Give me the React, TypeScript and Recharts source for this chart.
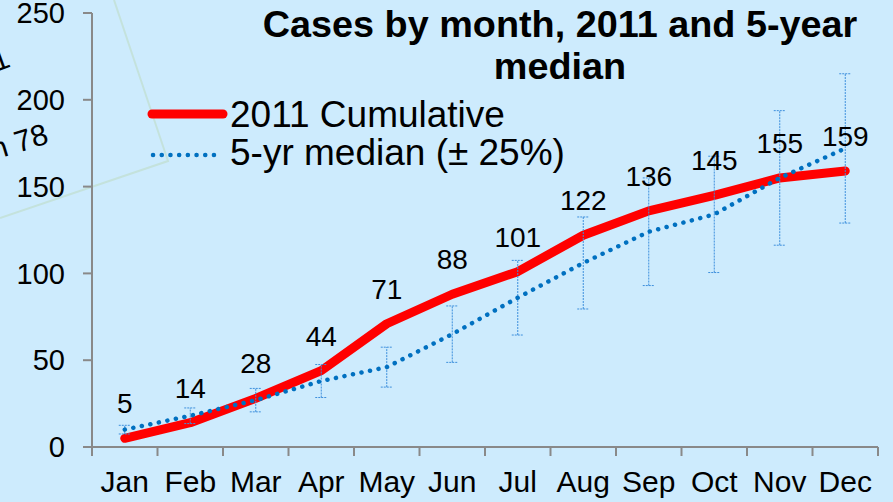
import React from "react";
import {
  LineChart,
  Line,
  XAxis,
  YAxis,
  ErrorBar,
  LabelList,
  Legend,
} from "recharts";

// chart data
const months = ["Jan", "Feb", "Mar", "Apr", "May", "Jun", "Jul", "Aug", "Sep", "Oct", "Nov", "Dec"];
const cumulative2011 = [5, 14, 28, 44, 71, 88, 101, 122, 136, 145, 155, 159];
const median5yr = [10, 18, 27, 38, 46, 65, 86, 106, 124, 134, 155, 172];
const errorShare = 0.25; // "± 25%" from the legend
const yTicks = [0, 50, 100, 150, 200, 250];

const W = 893;
const H = 502;
const MARGIN = { top: 13, right: 15, bottom: 0, left: 0 };
const Y_AXIS_W = 92;
const X_AXIS_H = 55;
const PLOT_W = W - MARGIN.left - MARGIN.right - Y_AXIS_W;
const BAND = PLOT_W / months.length;
const AXIS_Y = H - X_AXIS_H;

const AXIS_GRAY = "#898989";
const BG = "#cdebfd";
const FONT = '"Liberation Sans", Arial, Helvetica, sans-serif';

const rows = months.map((m, i) => ({
  month: m,
  x: i + 0.5,
  cum: cumulative2011[i],
  median: median5yr[i],
  err: median5yr[i] * errorShare,
}));

const xTicks = rows.map((r) => r.x);

function MonthTick(props: any) {
  const { x, payload, index } = props;
  const left = x - BAND / 2;
  const isLast = index === months.length - 1;
  return (
    <g>
      <line x1={left} x2={left} y1={AXIS_Y} y2={AXIS_Y + 9} stroke={AXIS_GRAY} strokeWidth={2} />
      {isLast && (
        <line x1={x + BAND / 2} x2={x + BAND / 2} y1={AXIS_Y} y2={AXIS_Y + 9} stroke={AXIS_GRAY} strokeWidth={2} />
      )}
      <text x={x} y={AXIS_Y + 45} textAnchor="middle" fontSize={30} fill="#000" fontFamily={FONT}>
        {months[Math.round(payload.value - 0.5)]}
      </text>
    </g>
  );
}

function LegendBox() {
  return (
    <svg width={440} height={90} style={{ overflow: "visible" }}>
      <line x1={4} x2={75} y1={19} y2={19} stroke="#ff0000" strokeWidth={9} strokeLinecap="round" />
      <text x={82} y={32} fontSize={37} fill="#000" fontFamily={FONT}>
        2011 Cumulative
      </text>
      <line
        x1={5}
        x2={74}
        y1={60}
        y2={60}
        stroke="#0070c0"
        strokeWidth={4.5}
        strokeLinecap="round"
        strokeDasharray="0.1 8.6"
      />
      <text x={82} y={70} fontSize={37} fill="#000" fontFamily={FONT}>
        5-yr median (± 25%)
      </text>
    </svg>
  );
}

export default function App() {
  return (
    <div
      style={{
        position: "fixed",
        left: 0,
        top: 0,
        width: W,
        height: H,
        background: BG,
        overflow: "hidden",
        fontFamily: FONT,
      }}
    >
      {/* leftovers of a neighbouring slide shape, cut off at the edge */}
      <svg width={W} height={H} style={{ position: "absolute", left: 0, top: 0 }}>
        <polyline points="114,0 168,161 0,218" fill="none" stroke="#c4e2dc" strokeWidth={2} />
        <text x={-4} y={72} fontSize={30} fill="#000" transform="rotate(-20 -4 72)" fontFamily={FONT}>
          1
        </text>
        <text x={-6} y={160} fontSize={30} fill="#000" transform="rotate(-17 -6 160)" fontFamily={FONT}>
          n 78
        </text>
      </svg>

      <div style={{ position: "absolute", left: 0, top: 0 }}>
        <LineChart width={W} height={H} data={rows} margin={MARGIN}>
          <XAxis
            type="number"
            dataKey="x"
            domain={[0, 12]}
            ticks={xTicks}
            interval={0}
            height={X_AXIS_H}
            axisLine={{ stroke: AXIS_GRAY, strokeWidth: 2 }}
            tickLine={false}
            tick={(p: any) => <MonthTick {...p} />}
          />
          <YAxis
            type="number"
            domain={[0, 250]}
            ticks={yTicks}
            interval={0}
            width={Y_AXIS_W}
            tickSize={9}
            tickMargin={18}
            axisLine={{ stroke: AXIS_GRAY, strokeWidth: 2 }}
            tickLine={{ stroke: AXIS_GRAY, strokeWidth: 2 }}
            tick={{ fontSize: 29, fill: "#000", fontFamily: FONT }}
          />
          <Legend
            layout="vertical"
            align="center"
            verticalAlign="middle"
            wrapperStyle={{ top: 95, left: 148, width: 440 }}
            content={() => <LegendBox />}
          />
          <Line
            type="linear"
            dataKey="cum"
            stroke="#ff0000"
            strokeWidth={9}
            strokeLinecap="round"
            strokeLinejoin="round"
            dot={false}
            isAnimationActive={false}
          >
            <LabelList dataKey="cum" position="top" offset={25} fontSize={28} fill="#000" fontFamily={FONT} />
          </Line>
          <Line
            type="linear"
            dataKey="median"
            stroke="#0070c0"
            strokeWidth={4.5}
            strokeLinecap="round"
            strokeDasharray="0.1 8.6"
            dot={false}
            isAnimationActive={false}
          >
            <ErrorBar
              dataKey="err"
              direction="y"
              width={6}
              stroke="#3d8fdc"
              strokeWidth={1}
              strokeDasharray="2 1"
              isAnimationActive={false}
            />
          </Line>
        </LineChart>
      </div>

      <div
        style={{
          position: "absolute",
          left: 250,
          top: 3,
          width: 620,
          textAlign: "center",
          fontWeight: "bold",
          fontSize: 37.8,
          lineHeight: "42px",
          color: "#000",
        }}
      >
        Cases by month, 2011 and 5-year
        <br />
        median
      </div>
    </div>
  );
}
